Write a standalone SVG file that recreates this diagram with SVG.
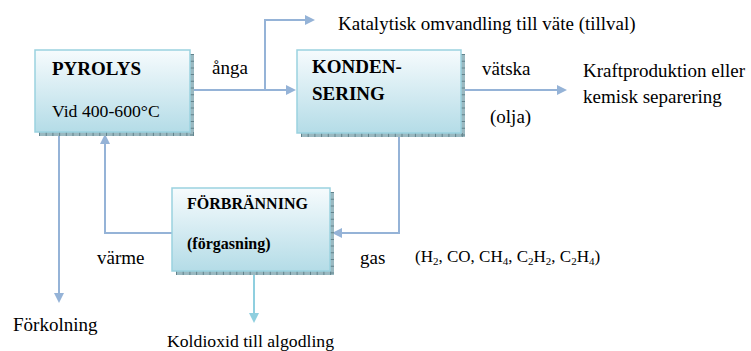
<svg xmlns="http://www.w3.org/2000/svg" width="751" height="351" viewBox="0 0 751 351">
  <defs>
    <linearGradient id="boxFill" x1="0" y1="0" x2="0" y2="1">
      <stop offset="0" stop-color="#f6fbfd"/>
      <stop offset="1" stop-color="#b4dce7"/>
    </linearGradient>
    <marker id="arrow" viewBox="0 0 10 10" refX="7" refY="5" markerWidth="10" markerHeight="10" markerUnits="userSpaceOnUse" orient="auto">
      <path d="M0,0 L10,5 L0,10 z" fill="#95b3d7"/>
    </marker>
    <marker id="arrowCyan" viewBox="0 0 10 10" refX="7" refY="5" markerWidth="10" markerHeight="10" markerUnits="userSpaceOnUse" orient="auto">
      <path d="M0,0 L10,5 L0,10 z" fill="#8fcfdf"/>
    </marker>
  </defs>
  <style>
    .shadow { fill: #9ab9c1; }
    .ticks { stroke: #62838c; stroke-width: 4; stroke-dasharray: 1 5.7; fill: none; }
    .box { fill: url(#boxFill); stroke: #9ad2df; stroke-width: 1.5; }
    .t { font-family: "Liberation Serif", "Times New Roman", serif; fill: #000; }
    .b { font-weight: bold; }
    .conn { fill: none; stroke: #95b3d7; stroke-width: 2; marker-end: url(#arrow); }
    .connCyan { fill: none; stroke: #8fcfdf; stroke-width: 2; marker-end: url(#arrowCyan); }
  </style>

  <rect width="751" height="351" fill="#ffffff"/>

  <!-- connectors -->
  <g id="connectors">
    <path class="conn" d="M194,90 H293"/>
    <path class="conn" d="M265,90 V20 H312"/>
    <path class="conn" d="M465,90 H564"/>
    <path class="conn" d="M399,137 V233 H335"/>
    <path class="conn" d="M172,233 H105 V137"/>
    <path class="conn" d="M59,136 V300"/>
    <path class="connCyan" d="M254,275 V320"/>
  </g>

  <!-- PYROLYS -->
  <g id="pyrolys">
    <rect class="shadow" x="39" y="54" width="155" height="82"/>
    <line class="ticks" x1="39" y1="134" x2="194" y2="134"/>
    <line class="ticks" x1="192" y1="54" x2="192" y2="136"/>
    <rect class="box" x="35" y="50" width="155" height="82"/>
    <text class="t b" x="52" y="75" font-size="19">PYROLYS</text>
    <text class="t" x="52" y="117" font-size="17.7">Vid 400-600°C</text>
  </g>

  <!-- KONDENSERING -->
  <g id="kondensering">
    <rect class="shadow" x="301" y="54" width="164" height="83"/>
    <line class="ticks" x1="301" y1="135" x2="465" y2="135"/>
    <line class="ticks" x1="463" y1="54" x2="463" y2="137"/>
    <rect class="box" x="297" y="50" width="164" height="83"/>
    <text class="t b" x="312" y="73" font-size="19">KONDEN-</text>
    <text class="t b" x="312" y="100" font-size="19">SERING</text>
  </g>

  <!-- FÖRBRÄNNING -->
  <g id="forbranning">
    <rect class="shadow" x="176" y="192" width="158" height="83"/>
    <line class="ticks" x1="176" y1="273" x2="334" y2="273"/>
    <line class="ticks" x1="332" y1="192" x2="332" y2="275"/>
    <rect class="box" x="172" y="188" width="158" height="83"/>
    <text class="t b" x="187" y="209" font-size="16">FÖRBRÄNNING</text>
    <text class="t b" x="187" y="249" font-size="16">(förgasning)</text>
  </g>

  <!-- labels -->
  <g id="labels">
    <text class="t" x="212" y="74" font-size="19">ånga</text>
    <text class="t" x="338" y="30" font-size="19">Katalytisk omvandling till väte (tillval)</text>
    <text class="t" x="482" y="75" font-size="19">vätska</text>
    <text class="t" x="490" y="123" font-size="19">(olja)</text>
    <text class="t" x="583" y="77" font-size="19">Kraftproduktion eller</text>
    <text class="t" x="583" y="103" font-size="19">kemisk separering</text>
    <text class="t" x="97" y="264" font-size="19">värme</text>
    <text class="t" x="360" y="264" font-size="19">gas</text>
    <text class="t" x="415" y="262" font-size="17">(H<tspan font-size="11" dy="3">2</tspan><tspan dy="-3">, CO, CH</tspan><tspan font-size="11" dy="3">4</tspan><tspan dy="-3">, C</tspan><tspan font-size="11" dy="3">2</tspan><tspan dy="-3">H</tspan><tspan font-size="11" dy="3">2</tspan><tspan dy="-3">, C</tspan><tspan font-size="11" dy="3">2</tspan><tspan dy="-3">H</tspan><tspan font-size="11" dy="3">4</tspan><tspan dy="-3">)</tspan></text>
    <text class="t" x="13" y="331" font-size="19">Förkolning</text>
    <text class="t" x="167" y="347" font-size="17.7">Koldioxid till algodling</text>
  </g>
</svg>
